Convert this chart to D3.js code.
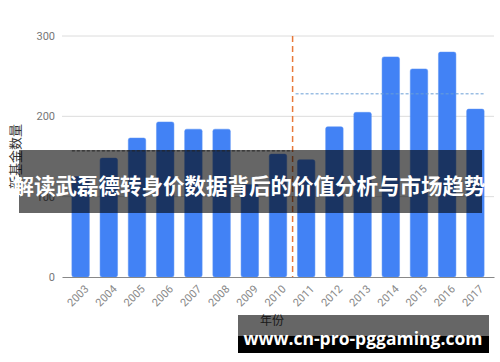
<!DOCTYPE html>
<html>
<head>
<meta charset="utf-8">
<script src="https://cdn.jsdelivr.net/npm/d3@7"></script>
<style>
  html, body { margin: 0; padding: 0; background: #fff; }
  svg { display: block; font-family: "Noto Sans CJK SC", "Noto Sans", sans-serif; }
</style>
</head>
<body>
<div id="chart"></div>
<script>
// data
const years = ["2003", "2004", "2005", "2006", "2007", "2008", "2009", "2010",
               "2011", "2012", "2013", "2014", "2015", "2016", "2017"];
const counts = [125, 148, 173, 193, 184, 184, 115, 153,
                146, 187, 205, 274, 259, 280, 209];
const yTicks = [0, 100, 200, 300];
const periods = [
    { from: "2003", to: "2010", avg: 157 },
    { from: "2011", to: "2017", avg: 228 },
];
const splitAfter = "2010";
const titleText = "解读武磊德转身价数据背后的价值分析与市场趋势";
const xLabel = "年份";
const yLabel = "新基金数量";
const watermark = "www.cn-pro-pggaming.com";

const width = 500, height = 362;
const plot = { left: 62, right: 494, top: 36, bottom: 277 };

const svg = d3.select("#chart")
    .append("svg")
    .attr("width", width)
    .attr("height", height);

const x = d3.scaleBand()
    .domain(years)
    .range([plot.left, plot.right])
    .paddingInner(0.38)
    .paddingOuter(0.35);

const y = d3.scaleLinear()
    .domain([0, 300])
    .range([plot.bottom, plot.top]);

// grid lines
svg.append("g")
    .selectAll("line")
    .data(yTicks.filter(d => d > 0))
    .enter()
    .append("line")
    .attr("x1", plot.left)
    .attr("x2", plot.right)
    .attr("y1", d => y(d))
    .attr("y2", d => y(d))
    .attr("stroke", "#dcdcdc")
    .attr("stroke-width", 1);

// y axis labels
const yAxis = svg.append("g")
    .attr("transform", `translate(${plot.left},0)`)
    .call(d3.axisLeft(y).tickValues(yTicks).tickSize(0).tickPadding(7));
yAxis.select(".domain").remove();
yAxis.selectAll("text")
    .attr("fill", "#777")
    .style("font-size", "11px")
    .style("font-family", "Roboto, 'Noto Sans', sans-serif");

// bars
svg.append("g")
    .selectAll("rect")
    .data(years.map((yr, i) => ({ year: yr, value: counts[i] })))
    .enter()
    .append("rect")
    .attr("x", d => x(d.year))
    .attr("y", d => y(d.value))
    .attr("width", x.bandwidth())
    .attr("height", d => y(0) - y(d.value))
    .attr("rx", 2)
    .attr("fill", "#4282f5")
    .attr("stroke", "#5a93f5")
    .attr("stroke-width", 0.5);

// x axis
const xAxis = svg.append("g")
    .attr("transform", `translate(0,${plot.bottom})`)
    .call(d3.axisBottom(x).tickSize(0).tickPadding(0));
xAxis.select(".domain")
    .attr("stroke", "#888")
    .attr("stroke-width", 1.2);
xAxis.selectAll("text")
    .attr("fill", "#888")
    .style("font-size", "11px")
    .style("font-family", "Roboto, 'Noto Sans', sans-serif")
    .attr("text-anchor", "end")
    .attr("x", 0)
    .attr("y", 0)
    .attr("dy", "0.35em")
    .attr("transform", "translate(6,10) rotate(-45)");

// divider between periods
const splitX = x(splitAfter) + x.step() - (x.step() - x.bandwidth()) / 2 + 0.5;
svg.append("line")
    .attr("x1", splitX)
    .attr("x2", splitX)
    .attr("y1", plot.top)
    .attr("y2", plot.bottom)
    .attr("stroke", "#e8793a")
    .attr("stroke-width", 1.5)
    .attr("stroke-dasharray", "6,4");

// period averages
svg.append("g")
    .selectAll("line")
    .data(periods)
    .enter()
    .append("line")
    .attr("x1", (d, i) => i === 0 ? x(d.from) : splitX + 3)
    .attr("x2", (d, i) => i === 0 ? splitX - 2 : x(d.to) + x.bandwidth())
    .attr("y1", d => y(d.avg))
    .attr("y2", d => y(d.avg))
    .attr("stroke", (d, i) => i === 0 ? "#555" : "#6a9fd6")
    .attr("stroke-width", 1)
    .attr("stroke-dasharray", "3,2");

// axis titles
svg.append("text")
    .attr("transform", `translate(20,${(plot.top + plot.bottom) / 2}) rotate(-90)`)
    .attr("text-anchor", "middle")
    .attr("fill", "#333")
    .style("font-size", "13px")
    .text(yLabel);

svg.append("text")
    .attr("x", 272)
    .attr("y", 325)
    .attr("text-anchor", "middle")
    .attr("fill", "#444")
    .style("font-size", "12px")
    .text(xLabel);

// title banner over the chart
svg.append("rect")
    .attr("x", 19)
    .attr("y", 150)
    .attr("width", 463)
    .attr("height", 63)
    .attr("fill", "rgba(0,0,0,0.6)");

svg.append("text")
    .attr("x", 249)
    .attr("y", 194)
    .attr("text-anchor", "middle")
    .attr("fill", "#fff")
    .style("font-size", "21.5px")
    .style("font-weight", "bold")
    .text(titleText);

// watermark
svg.append("rect")
    .attr("x", 238)
    .attr("y", 315)
    .attr("width", 251)
    .attr("height", 21)
    .attr("fill", "rgba(0,0,0,0.6)");
svg.append("rect")
    .attr("x", 238)
    .attr("y", 336)
    .attr("width", 251)
    .attr("height", 17)
    .attr("fill", "#000");

svg.append("text")
    .attr("x", 363)
    .attr("y", 345)
    .attr("text-anchor", "middle")
    .attr("fill", "#fff")
    .style("font-size", "17.5px")
    .style("font-weight", "bold")
    .style("font-family", "'Open Sans', 'Noto Sans', sans-serif")
    .text(watermark);
</script>
</body>
</html>
